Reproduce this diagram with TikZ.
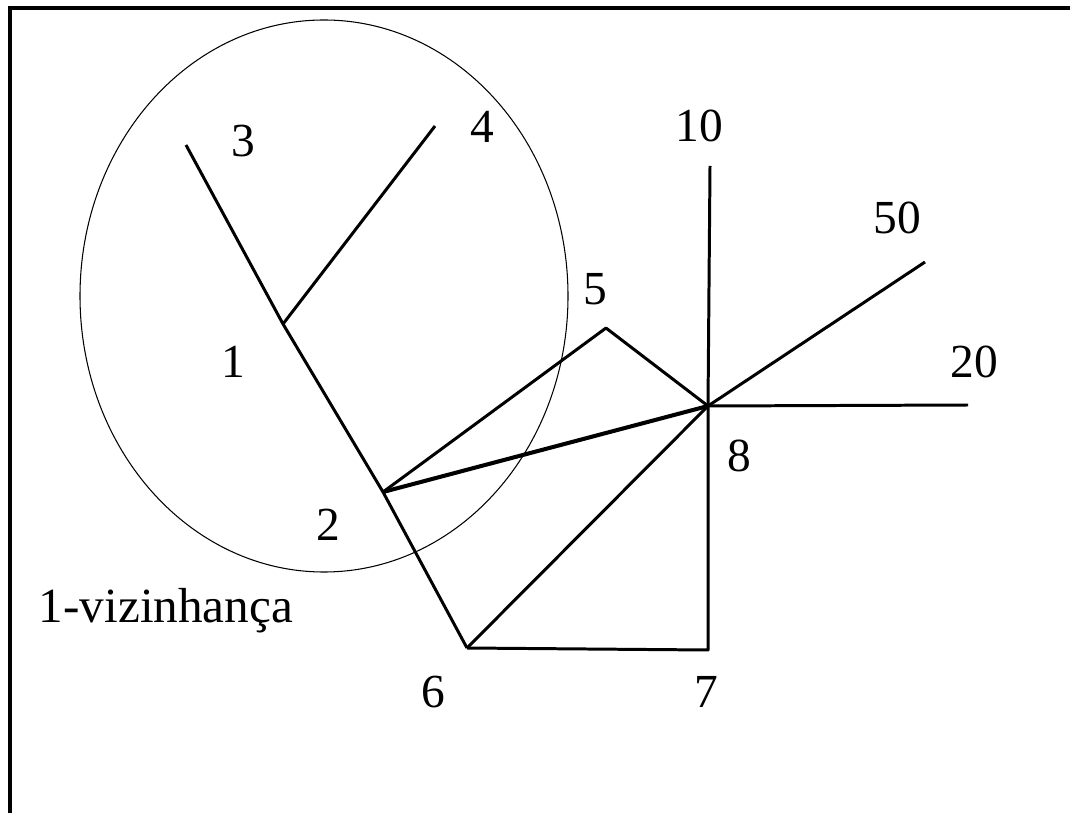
\documentclass[tikz,border=0pt]{standalone}
\usepackage{fontspec}
\setmainfont{Liberation Serif}
\usetikzlibrary{positioning}

\begin{document}
\begin{tikzpicture}[
    x=0.02cm, y=-0.02cm,
    edge/.style={line width=1.7pt, line join=round},
    heavy/.style={line width=2.3pt, line join=round},
    ring/.style={line width=0.6pt},
    frame/.style={line width=2.3pt},
    lbl/.style={font=\fontsize{27}{32}\selectfont, inner sep=0pt},
    caption/.style={font=\fontsize{28}{33}\selectfont, inner sep=0pt}
  ]
    \useasboundingbox (0,0) rectangle (1070,813);
    \draw[frame] (10,813) -- (10,8) -- (1070,8);

    % vertices
    \coordinate (v3) at (186,145);
    \coordinate (v1) at (283,324);
    \coordinate (v4) at (435,126);
    \coordinate (v2) at (383,492);
    \coordinate (v6) at (467,648);
    \coordinate (v7) at (708,650);
    \coordinate (v8) at (708,406);
    \coordinate (v5) at (606,328);
    \coordinate (v10) at (710,166);
    \coordinate (v50) at (925,262);
    \coordinate (v20) at (968,405);

    % 1-neighbourhood
    \draw[ring] (324,296) ellipse [x radius=244, y radius=276];

    % edges
    \draw[edge] (v3) -- (v1) -- (v2) -- (v6);
    \draw[edge] (v1) -- (v4);
    \draw[edge] (v2) -- (v5) -- (v8);
    \draw[heavy] (v2) -- (v8);
    \draw[edge] (v6) -- (v8);
    \draw[edge] (v6) -- (v7) -- (v8);
    \draw[edge] (v8) -- (v10);
    \draw[edge] (v8) -- (v50);
    \draw[edge] (v8) -- (v20);

    % labels
    \node[lbl] (l3) at (243,141) {3};
    \node[lbl] (l4) at (482,127) {4};
    \node[lbl] (l1) at (233,362) {1};
    \node[lbl] (l2) at (328,525) {2};
    \node[lbl] (l5) at (595,289) {5};
    \node[lbl] (l10) at (699,126) {10};
    \node[lbl] (l50) at (897,218) {50};
    \node[lbl] (l20) at (974,362) {20};
    \node[lbl] (l8) at (739,456) {8};
    \node[lbl] (l6) at (433,692) {6};
    \node[lbl] (l7) at (706,692) {7};
    \node[caption] (nbhd) at (166,611) {1-vizinhança};
\end{tikzpicture}
\end{document}
